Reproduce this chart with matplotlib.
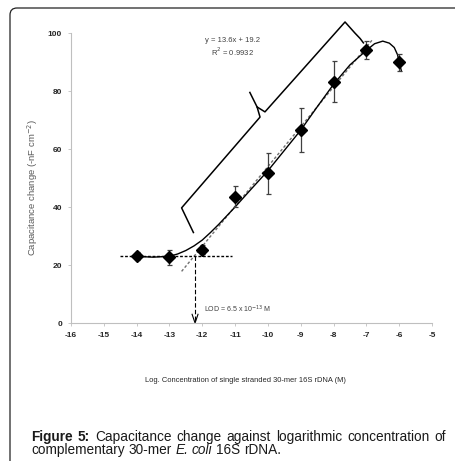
import matplotlib
matplotlib.use("Agg")
import matplotlib.pyplot as plt
from matplotlib.patches import FancyBboxPatch
from matplotlib.transforms import IdentityTransform

plt.rcParams["axes.unicode_minus"] = False

# data
log_conc = [-14, -13, -12, -11, -10, -9, -8, -7, -6]
cap_change = [23.1, 22.6, 25.3, 43.6, 51.6, 66.6, 83.2, 94.2, 89.9]
cap_err = [1.3, 2.6, 1.5, 3.5, 7.0, 7.5, 7.0, 3.2, 3.0]

# hand drawn fit curve through the points
curve_x = [-14.05, -13.5, -13.0, -12.75, -12.5, -12.25, -12.0, -11.75, -11.5,
           -11.25, -11.0, -10.5, -10.0, -9.5, -9.0, -8.5, -8.0, -7.5, -7.0,
           -6.75, -6.5, -6.3, -6.15, -6.05, -6.0, -5.93]
curve_y = [23.0, 22.7, 23.0, 23.8, 25.0, 26.6, 28.6, 31.2, 34.0,
           37.0, 40.0, 46.3, 52.5, 59.5, 66.5, 74.5, 82.3, 89.0, 94.0,
           96.3, 97.2, 96.5, 95.0, 92.5, 90.0, 86.8]

# linear trend line and LOD construction lines
trend_x = [-12.63, -6.8]
trend_y = [17.8, 97.9]
base_x = [-14.5, -11.08]
base_y = [23.0, 23.0]
lod_x = -12.22
lod_y = 23.0

# bracket marking the linear range
brace_low_x = [-12.27, -12.63, -10.24, -10.33, -10.55]
brace_low_y = [31.2, 39.7, 71.0, 74.5, 79.5]
brace_up_x = [-10.33, -10.09, -7.65, -7.35, -7.19, -7.09]
brace_up_y = [74.5, 72.8, 103.8, 100.0, 98.1, 96.6]

xticks = list(range(-16, -4))
yticks = [0, 20, 40, 60, 80, 100]

arial = ["Liberation Sans", "DejaVu Sans"]

fig = plt.figure(figsize=(4.56, 4.61), dpi=100)
W, H = 456, 461
ax = fig.add_axes([71 / W, 1 - 323 / H, 361 / W, 290 / H])

# curve and lines
ax.plot(curve_x, curve_y, color="black", lw=1.0, zorder=3)
ax.plot(trend_x, trend_y, color="#707070", lw=1.0, ls=(0, (2, 1.5)), zorder=2)
ax.plot(base_x, base_y, color="black", lw=1.0, ls=(0, (2, 1.3)), zorder=2)
ax.plot([lod_x, lod_x], [lod_y, 0], color="black", lw=0.8, ls=(0, (4, 2)), zorder=2)
ax.plot([lod_x - 0.09, lod_x, lod_x + 0.09], [3.0, 0, 3.0], color="black", lw=0.8,
        clip_on=False)
ax.plot(brace_low_x, brace_low_y, color="black", lw=1.1, clip_on=False)
ax.plot(brace_up_x, brace_up_y, color="black", lw=1.1, clip_on=False)

ax.errorbar(log_conc, cap_change, yerr=cap_err, fmt="D", color="black", ms=5.8,
            ecolor="#404040", elinewidth=0.9, capsize=1.8, capthick=0.9, zorder=4)

ax.set_xlim(-16, -5)
ax.set_ylim(0, 100)
ax.set_xticks(xticks)
ax.set_yticks(yticks)
for sp in ["top", "right"]:
    ax.spines[sp].set_visible(False)
for sp in ["left", "bottom"]:
    ax.spines[sp].set_color("#bfbfbf")
    ax.spines[sp].set_linewidth(0.8)
ax.tick_params(direction="out", length=2.5, width=0.6, color="#bfbfbf", pad=4)
for lab in ax.get_xticklabels() + ax.get_yticklabels():
    lab.set_family(arial)
    lab.set_fontsize(6)
    lab.set_fontweight("bold")
    lab.set_color("#262626")

ax.text(-11.09, 97.4, "y = 13.6x + 19.2", family=arial, fontsize=5.5,
        ha="center", va="center", color="#404040")
ax.text(-11.09, 93.4, "R$^2$ = 0.9932", family=arial, fontsize=5.5,
        ha="center", va="center", color="#404040")
ax.text(-11.95, 4.8, "LOD = 6.5 x 10$^{-13}$ M", family=arial, fontsize=5,
        ha="left", va="center", color="#404040")

fig.text(33 / W, 1 - 188 / H, "Capacitance change (-nF cm$^{-2}$)", rotation=90,
         family=arial, fontsize=6.8, color="#595959", ha="center", va="center")
fig.text(245 / W, 1 - 380 / H,
         "Log. Concentration of single stranded 30-mer 16S rDNA (M)",
         family=arial, fontsize=5.4, color="#262626", ha="center", va="center")

# frame around the figure
frame = FancyBboxPatch((10, -30), 520, 30 + H - 8,
                       boxstyle="round,pad=0,rounding_size=7",
                       transform=IdentityTransform(), fill=False,
                       edgecolor="#222222", lw=0.9, clip_on=False)
fig.patches.append(frame)

# caption, first line justified
renderer = fig.canvas.get_renderer()
cap_size = 9.8


def put_words(words, y, x0, x1=None):
    texts = []
    for w, weight, style in words:
        t = fig.text(0, y, w, transform=IdentityTransform(), family=arial,
                     fontsize=cap_size, fontweight=weight, style=style,
                     ha="left", va="baseline", color="#1a1a1a")
        texts.append(t)
    widths = [t.get_window_extent(renderer).width for t in texts]
    if x1 is None:
        a = fig.text(0, 0, "a a", family=arial, fontsize=cap_size)
        b = fig.text(0, 0, "aa", family=arial, fontsize=cap_size)
        gap = a.get_window_extent(renderer).width - b.get_window_extent(renderer).width
        a.remove()
        b.remove()
    else:
        gap = (x1 - x0 - sum(widths)) / (len(texts) - 1)
    x = x0
    for t, w in zip(texts, widths):
        t.set_x(x)
        x += w + gap


line1 = [("Figure", "bold", "normal"), ("5:", "bold", "normal"),
         ("Capacitance", "normal", "normal"), ("change", "normal", "normal"),
         ("against", "normal", "normal"), ("logarithmic", "normal", "normal"),
         ("concentration", "normal", "normal"), ("of", "normal", "normal")]
line2 = [("complementary", "normal", "normal"), ("30-mer", "normal", "normal"),
         ("E.", "normal", "italic"), ("coli", "normal", "italic"),
         ("16S", "normal", "normal"), ("rDNA.", "normal", "normal")]
put_words(line1, H - 441, 31, 446)
put_words(line2, H - 454, 31)

fig.savefig("out.png", dpi=100)
